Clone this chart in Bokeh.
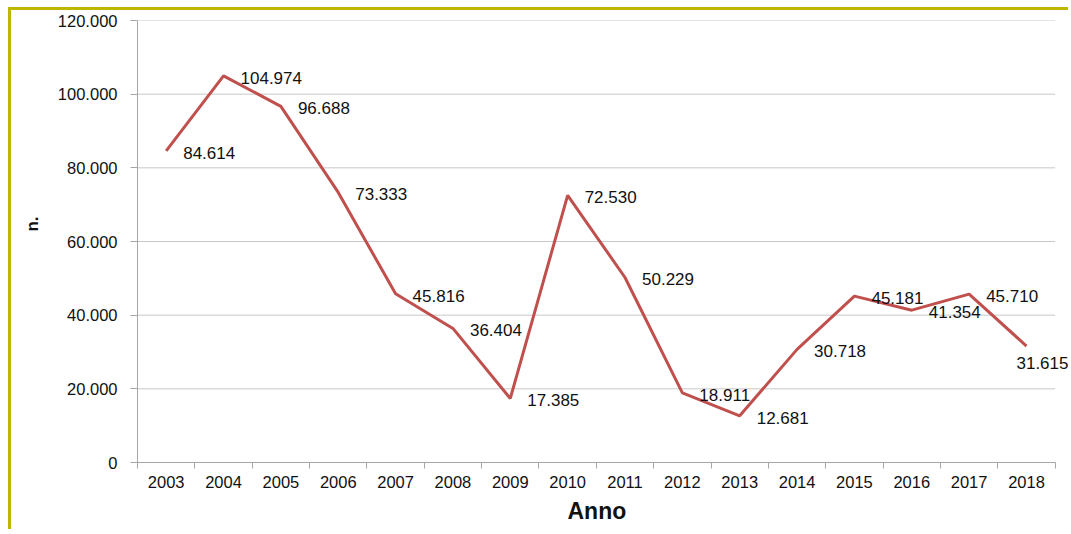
import math
from bokeh.plotting import figure
from bokeh.models import FixedTicker, Title, ColumnDataSource
from bokeh.core.properties import value
from bokeh.embed import file_html
from bokeh.resources import INLINE

years = [2003, 2004, 2005, 2006, 2007, 2008, 2009, 2010, 2011, 2012,
         2013, 2014, 2015, 2016, 2017, 2018]
counts = [84614, 104974, 96688, 73333, 45816, 36404, 17385, 72530, 50229,
          18911, 12681, 30718, 45181, 41354, 45710, 31615]
y_ticks = [0, 20000, 40000, 60000, 80000, 100000, 120000]
y_tick_labels = ["0", "20.000", "40.000", "60.000", "80.000", "100.000", "120.000"]

FONT = "Liberation Sans"
LINE = "#C0504D"
AXIS = "#A6A6A6"
GRID = "#C8C8C8"
BORDER = "#BDB700"
TXT = "#111111"

def fmt(v):
    return f"{v:,}".replace(",", ".")

labels = [fmt(v) for v in counts]
src_main = ColumnDataSource(dict(x=years[:-1], y=counts[:-1], lab=labels[:-1]))
src_last = ColumnDataSource(dict(x=years[-1:], y=counts[-1:], lab=labels[-1:]))

x_lo, x_hi = years[0] - 0.5, years[-1] + 0.5

p = figure(width=1060, height=522, output_backend="svg", toolbar_location=None,
           x_range=(x_lo, x_hi + 0.25), y_range=(0, 120000),
           min_border_left=126, min_border_right=2, min_border_top=10,
           min_border_bottom=70)
p.styles = {"border-left": f"3px solid {BORDER}", "border-top": f"3px solid {BORDER}",
            "margin-left": "8px", "margin-top": "7px"}
p.outline_line_color = None
p.background_fill_color = "white"
p.border_fill_color = "white"

# horizontal grid lines limited to the category span
grid_y = y_ticks[1:]
p.segment(x0=[x_lo] * len(grid_y), x1=[x_hi] * len(grid_y), y0=grid_y, y1=grid_y,
          line_color=GRID, line_width=1)

p.line(years, counts, line_color=LINE, line_width=3)
common = dict(text_font=value(FONT), text_font_size="17px", text_color=TXT,
              text_align="left", text_baseline="middle")
p.text("x", "y", text="lab", source=src_main, x_offset=17, y_offset=2, **common)
p.text("x", "y", text="lab", source=src_last, x_offset=-10, y_offset=17, **common)

# x axis
xa = p.xaxis[0]
xa.bounds = (x_lo, x_hi)
xa.ticker = FixedTicker(ticks=years, minor_ticks=[y - 0.5 for y in years] + [x_hi])
xa.major_label_overrides = {y: str(y) for y in years}
xa.major_tick_out = 0
xa.major_tick_in = 0
xa.minor_tick_out = 6
xa.minor_tick_in = 0
xa.minor_tick_line_color = AXIS
xa.axis_line_color = AXIS
xa.major_label_standoff = 7
xa.major_label_text_font = FONT
xa.major_label_text_font_size = "16.5px"
xa.major_label_text_color = TXT

# y axis
ya = p.yaxis[0]
ya.ticker = FixedTicker(ticks=y_ticks)
ya.major_label_overrides = dict(zip(y_ticks, y_tick_labels))
ya.major_tick_out = 7
ya.major_tick_in = 0
ya.minor_tick_line_color = None
ya.major_tick_line_color = AXIS
ya.axis_line_color = AXIS
ya.major_label_standoff = 13
ya.major_label_text_font = FONT
ya.major_label_text_font_size = "16.5px"
ya.major_label_text_color = TXT

# axis titles (placed as titles so they can sit where the original has them)
p.add_layout(Title(text="n.", align="right", vertical_align="top", offset=196,
                   standoff=22, text_font=FONT, text_font_size="17px",
                   text_font_style="bold", text_color=TXT),
             "left")
p.add_layout(Title(text="Anno", align="left", offset=430, standoff=10, text_font=FONT,
                   text_font_size="23px", text_font_style="bold", text_color=TXT),
             "below")

p.xgrid.grid_line_color = None
p.ygrid.grid_line_color = None

open("out.html", "w").write(file_html(p, INLINE))
